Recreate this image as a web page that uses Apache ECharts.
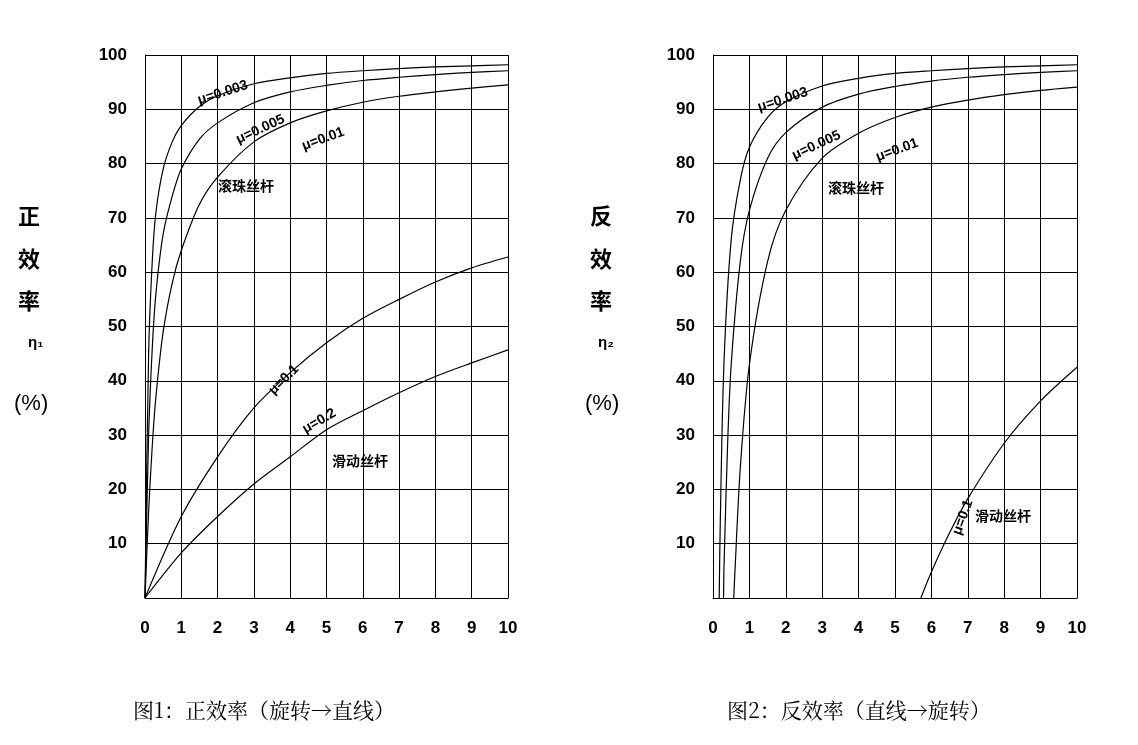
<!DOCTYPE html><html><head><meta charset="utf-8">
<script src="https://cdn.jsdelivr.net/npm/echarts@6/dist/echarts.min.js"></script>
<style>body{margin:0;background:#fff}#c{width:1138px;height:745px}</style></head><body><div id="c"></div>
<script>
const xTicks=[0,1,2,3,4,5,6,7,8,9,10];
const yTicks=[10,20,30,40,50,60,70,80,90,100];
const fwdX=[0,0.1,0.2,0.3,0.5,0.75,1,1.5,2,3,4,5,6,7,8,9,10];
const fwd003=[0,45,62,71,79,84,87,90.5,92.5,94.7,95.8,96.6,97.1,97.5,97.8,98,98.2];
const fwd005=[0,30,46,56,67,74,79,84.5,87.5,91.2,93.2,94.4,95.3,95.9,96.4,96.8,97.1];
const fwd01=[0,16,28,37,49,58,64,72.5,77.5,84,87.5,89.7,91.3,92.4,93.2,93.9,94.5];
const slideX=[0,1,2,3,4,5,6,7,8,9,10];
const fwd1=[0,15,26,35,41.5,47,51.5,55,58.2,60.8,62.8];
const fwd2=[0,8.3,15,21,26,31,34.5,37.8,40.8,43.3,45.7];
const rev003X=[0.17,0.2,0.3,0.5,0.75,1,1.5,2,3,4,5,6,7,8,9,10];
const rev003=[0,14,43,66,77,83,88.5,91.4,94.3,95.7,96.6,97.1,97.5,97.8,98,98.2];
const rev005X=[0.29,0.3,0.4,0.5,0.75,1,1.5,2,3,4,5,6,7,8,9,10];
const rev005=[0,5,28,43,62,71.4,81,85.7,90.4,92.8,94.2,95.2,95.9,96.4,96.8,97.1];
const rev01X=[0.57,0.6,0.75,1,1.5,2,3,4,5,6,7,8,9,10];
const rev01=[0,4.5,24,43,62,71.4,81,85.6,88.5,90.4,91.7,92.7,93.5,94.1];
const rev1X=[5.71,6,6.5,7,8,9,10];
const rev1=[0,4.8,12,18.3,28.5,36.3,42.5];
const pair=(xs,ys)=>xs.map((x,i)=>[x,ys[i]]);
const ch=echarts.init(document.getElementById('c'));
const lab={color:'#000',fontFamily:'Liberation Sans',fontWeight:'bold',fontSize:17};
const grid=[{left:145,right:630,top:55,height:543},{left:713,right:61,top:55,height:543}];
const xA=i=>({type:'value',gridIndex:i,min:0,max:10,interval:1,axisLine:{show:true,lineStyle:{color:'#000'}},axisTick:{show:false},
 axisLabel:Object.assign({margin:22},lab),splitLine:{show:true,lineStyle:{color:'#000',width:1}}});
const yA=i=>({type:'value',gridIndex:i,min:0,max:100,interval:10,axisLine:{show:true,lineStyle:{color:'#000'}},axisTick:{show:false},
 axisLabel:Object.assign({margin:18,formatter:v=>v===0?'':v},lab),splitLine:{show:true,lineStyle:{color:'#000',width:1}}});
const ser=(d,i)=>({type:'line',xAxisIndex:i,yAxisIndex:i,data:d,smooth:0.3,showSymbol:false,lineStyle:{color:'#000',width:1.2}});
const t=(x,y,s,r,fs)=>({type:'text',left:x,top:y,rotation:(r||0)*Math.PI/180,style:{text:s,font:`bold ${fs||14}px "Liberation Sans","Noto Sans CJK SC"`,fill:'#000'}});
const vt=(x,y,s)=>({type:'text',left:x,top:y,style:{text:s,font:'bold 22px "Noto Sans CJK SC"',fill:'#000'}});
ch.setOption({animation:false,grid,xAxis:[xA(0),xA(1)],yAxis:[yA(0),yA(1)],
series:[ser(pair(fwdX,fwd003),0),ser(pair(fwdX,fwd005),0),ser(pair(fwdX,fwd01),0),ser(pair(slideX,fwd1),0),ser(pair(slideX,fwd2),0),
 ser(pair(rev003X,rev003),1),ser(pair(rev005X,rev005),1),ser(pair(rev01X,rev01),1),ser(pair(rev1X,rev1),1)],
graphic:[
 vt(18,205,'正'),vt(18,248,'效'),vt(18,290,'率'),t(28,335,'η₁',0,15),{type:'text',left:14,top:393,style:{text:'(%)',font:'22px "Liberation Sans"',fill:'#000'}},
 vt(590,205,'反'),vt(590,248,'效'),vt(590,290,'率'),t(598,335,'η₂',0,15),{type:'text',left:585,top:393,style:{text:'(%)',font:'22px "Liberation Sans"',fill:'#000'}},
 t(196,78,'μ=0.003',18),t(234,112,'μ=0.005',25),t(300,125,'μ=0.01',20),t(218,180,'滚珠丝杆'),
 t(266,362,'μ=0.1',45),t(300,406,'μ=0.2',30),t(332,455,'滑动丝杆'),
 t(756,85,'μ=0.003',18),t(790,128,'μ=0.005',25),t(874,136,'μ=0.01',20),t(828,182,'滚珠丝杆'),
 t(950,498,'μ=0.1',70),t(975,510,'滑动丝杆'),
 {type:'text',left:133,top:700,style:{text:'图1：正效率（旋转→直线）',font:'21px "Noto Serif CJK SC","Noto Sans CJK SC"',fill:'#000'}},
 {type:'text',left:727,top:700,style:{text:'图2：反效率（直线→旋转）',font:'21px "Noto Serif CJK SC","Noto Sans CJK SC"',fill:'#000'}}
]});
</script></body></html>
